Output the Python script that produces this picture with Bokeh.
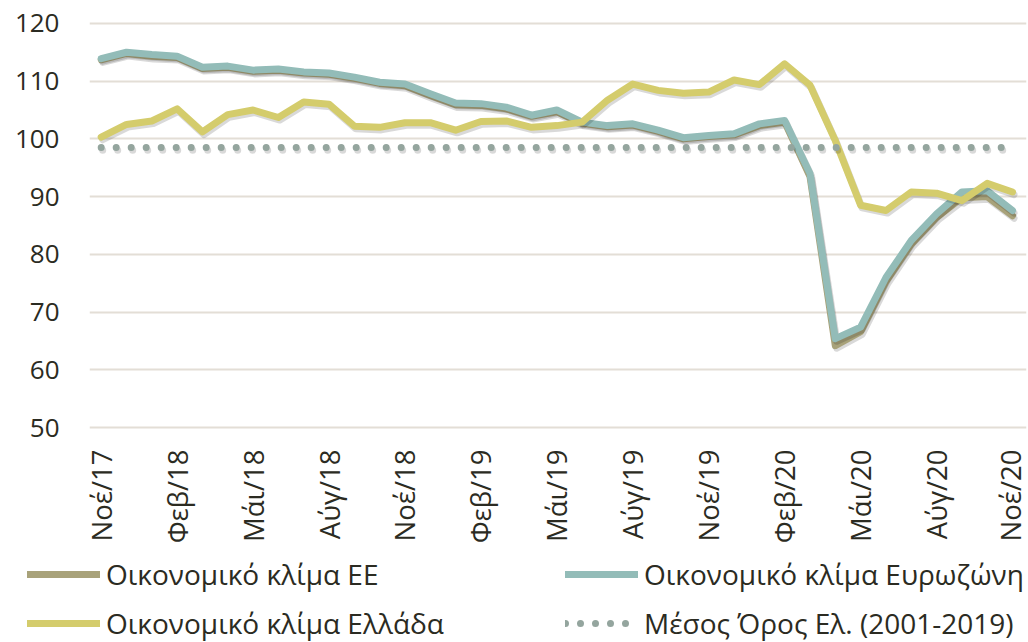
import math
from bokeh.plotting import figure
from bokeh.layouts import column, row
from bokeh.models import (ColumnDataSource, Range1d, FixedTicker, Legend, LegendItem)
from bokeh.transform import dodge
from bokeh.embed import file_html
from bokeh.resources import INLINE

month_labels = ["Noέ/17", "Φεβ/18", "Μάι/18", "Αύγ/18", "Noέ/18", "Φεβ/19", "Μάι/19",
                "Αύγ/19", "Noέ/19", "Φεβ/20", "Μάι/20", "Αύγ/20", "Noέ/20"]
idx = list(range(37))

eu = [113.7, 114.8, 114.3, 114.1, 112.2, 112.4, 111.7, 111.9, 111.4, 111.2, 110.5, 109.6,
      109.2, 107.5, 105.9, 105.8, 105.2, 103.9, 104.7, 102.7, 102.1, 102.4, 101.3, 100.0,
      100.4, 100.7, 102.3, 102.9, 93.5, 64.2, 66.6, 75.3, 81.8, 86.4, 89.8, 90.0, 86.7]
ez = [113.9, 115.0, 114.6, 114.3, 112.4, 112.6, 111.9, 112.1, 111.6, 111.4, 110.7, 109.8,
      109.5, 107.8, 106.2, 106.1, 105.5, 104.1, 105.0, 102.9, 102.3, 102.6, 101.5, 100.2,
      100.6, 100.9, 102.6, 103.2, 94.0, 65.4, 67.4, 76.0, 82.4, 87.0, 90.8, 91.0, 87.6]
gr = [100.3, 102.5, 103.1, 105.2, 101.2, 104.2, 105.0, 103.7, 106.4, 106.0, 102.2, 102.0,
      102.8, 102.8, 101.5, 103.0, 103.1, 102.0, 102.3, 102.9, 106.7, 109.5, 108.4, 107.9,
      108.1, 110.2, 109.4, 113.0, 109.3, 99.7, 88.5, 87.6, 90.8, 90.6, 89.3, 92.3, 90.8]
mean = [98.5] * 37

series_labels = ["Οικονομικό κλίμα ΕΕ", "Οικονομικό κλίμα Ευρωζώνη",
                 "Οικονομικό κλίμα Ελλάδα", "Μέσος Όρος Ελ. (2001-2019)"]

src = ColumnDataSource(dict(x=idx, eu=eu, ez=ez, gr=gr, mean=mean))

TXT = "#2b2b22"
FONT = "Open Sans"
C_EU, C_EZ, C_GR, C_MEAN = "#a8a27a", "#93bcb8", "#d4cc6c", "#94a59e"

p = figure(width=1028, height=552, output_backend="svg", toolbar_location=None,
           x_range=Range1d(-0.462, 36.553), y_range=Range1d(49.5, 120.5),
           min_border_left=89, min_border_right=2, min_border_top=20, min_border_bottom=122)
p.outline_line_color = None
p.background_fill_color = "white"
p.border_fill_color = "white"

p.xgrid.grid_line_color = None
p.ygrid.grid_line_color = "#e3ded6"
p.ygrid.grid_line_width = 2
p.yaxis.ticker = FixedTicker(ticks=[50, 60, 70, 80, 90, 100, 110, 120])
p.xaxis.ticker = FixedTicker(ticks=list(range(0, 37, 3)))
p.xaxis.major_label_overrides = {i * 3: lab for i, lab in enumerate(month_labels)}
p.xaxis.major_label_orientation = math.pi / 2

for ax in (p.xaxis[0], p.yaxis[0]):
    ax.axis_line_color = None
    ax.major_tick_line_color = None
    ax.minor_tick_line_color = None
    ax.major_tick_out = 0
    ax.major_tick_in = 0
    ax.major_label_text_font = FONT
    ax.major_label_text_color = TXT
p.yaxis.major_label_text_font_size = "26px"
p.xaxis.major_label_text_font_size = "27.5px"
p.yaxis.major_label_standoff = 30
p.xaxis.major_label_standoff = 19

def shadow(col, dash="solid"):
    p.line(x=dodge("x", 0.06), y=dodge(col, -0.45), source=src, line_color="#000000",
           line_alpha=0.15, line_width=7, line_join="round", line_cap="round",
           line_dash=dash)

shadow("eu")
p.line("x", "eu", source=src, line_color=C_EU, line_width=7, line_join="round", line_cap="round")
shadow("ez")
p.line("x", "ez", source=src, line_color=C_EZ, line_width=7, line_join="round", line_cap="round")
shadow("gr")
p.line("x", "gr", source=src, line_color=C_GR, line_width=7, line_join="round", line_cap="round")
shadow("mean", "0 15")
p.line("x", "mean", source=src, line_color=C_MEAN, line_width=7, line_cap="round", line_dash="0 15")

# legend figure (its lines use the same data, which lie outside its own y range)
lf = figure(width=1028, height=90, output_backend="svg", toolbar_location=None,
            x_range=Range1d(0, 1), y_range=Range1d(0, 1),
            min_border=0, min_border_left=0, min_border_right=0,
            min_border_top=0, min_border_bottom=0)
lf.axis.visible = False
lf.grid.visible = False
lf.outline_line_color = None
lf.border_fill_color = "white"
l_eu = lf.line("x", "eu", source=src, line_color=C_EU, line_width=7, line_cap="round")
l_ez = lf.line("x", "ez", source=src, line_color=C_EZ, line_width=7, line_cap="round")
l_gr = lf.line("x", "gr", source=src, line_color=C_GR, line_width=7, line_cap="round")
l_mean = lf.line("x", "mean", source=src, line_color=C_MEAN, line_width=7, line_cap="round",
                 line_dash="0 15")

leg_kw = dict(orientation="vertical", glyph_width=73, glyph_height=30, label_standoff=6,
              label_height=30, spacing=11, padding=0, margin=0,
              border_line_color=None, background_fill_alpha=0,
              label_text_font=FONT, label_text_font_size="28px", label_text_color=TXT)
leg1 = Legend(items=[LegendItem(label=series_labels[0], renderers=[l_eu]),
                     LegendItem(label=series_labels[2], renderers=[l_gr])],
              location=(27, 0), **leg_kw)
leg2 = Legend(items=[LegendItem(label=series_labels[1], renderers=[l_ez]),
                     LegendItem(label=series_labels[3], renderers=[l_mean])],
              location=(565, 0), **leg_kw)
lf.add_layout(leg1, "center")
lf.add_layout(leg2, "center")

layout = column(p, row(lf), spacing=0)
open("out.html", "w").write(file_html(layout, INLINE))
